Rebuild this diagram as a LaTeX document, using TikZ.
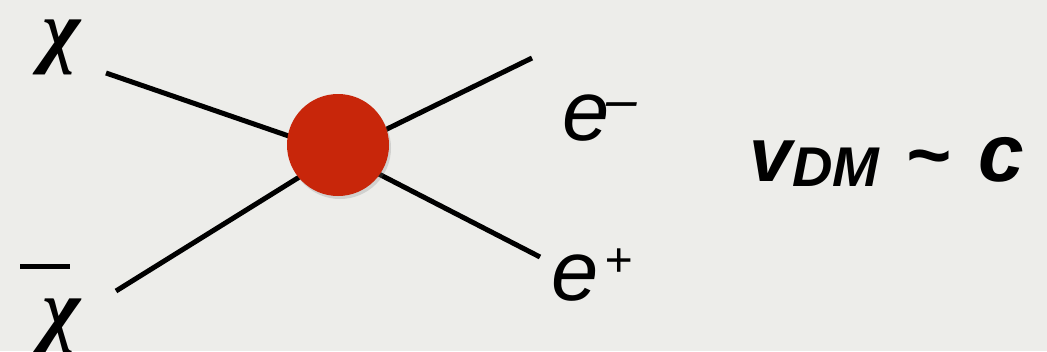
\documentclass[tikz,border=0pt]{standalone}
\usepackage{fontspec}
\setmainfont{Liberation Sans}
\newfontfamily\chifont{Liberation Serif}
\usetikzlibrary{shadows}
\definecolor{bg}{RGB}{237,237,234}
\definecolor{blobred}{RGB}{200,38,10}
\tikzset{
  leg/.style={line width=5pt, black},
  lbl/.style={inner sep=0pt, anchor=base west},
  blobstyle/.style={circle, fill=blobred, minimum size=102pt, inner sep=0pt,
    drop shadow={shadow xshift=2pt, shadow yshift=-3pt, opacity=0.25}},
}
\newcommand{\bchi}{{\chifont\bfseries\itshape\fontsize{82}{82}\selectfont χ}}
\begin{document}
\begin{tikzpicture}[x=1pt,y=-1pt]
\fill[bg] (0,0) rectangle (1047,351);
\useasboundingbox (0,0) rectangle (1047,351);
% vertex and leg ends
\coordinate (v) at (338,153);
\coordinate (a) at (106,73);
\coordinate (b) at (116,291);
\coordinate (c) at (532,58);
\coordinate (d) at (540,257);
\draw[leg] (a) -- (v);
\draw[leg] (b) -- (v);
\draw[leg] (c) -- (v);
\draw[leg] (d) -- (v);
\node[blobstyle] (blob) at (338,145) {};
% labels
\node[lbl] (chi1) at (42,57) {\bchi};
\node[lbl] (chi2) at (42,336) {\makebox[0pt][l]{\hspace{-22pt}\raisebox{67pt}{\rule{50pt}{5pt}}}\bchi};
\node[lbl] (em) at (562,140) {\fontsize{85}{85}\selectfont\itshape e\hspace{-3pt}\raisebox{22pt}{\fontsize{55}{55}\selectfont –}};
\node[lbl] (ep) at (551,300) {\fontsize{85}{85}\selectfont\itshape e\hspace{6pt}\raisebox{24pt}{\fontsize{48}{48}\selectfont +}};
\node[lbl] (vel) at (749,181) {\bfseries\itshape\fontsize{77}{77}\selectfont v\raisebox{-5pt}{\fontsize{56}{56}\selectfont DM}\hspace{26pt}\textasciitilde\hspace{28pt}{\fontsize{82}{82}\selectfont c}};
\end{tikzpicture}
\end{document}
